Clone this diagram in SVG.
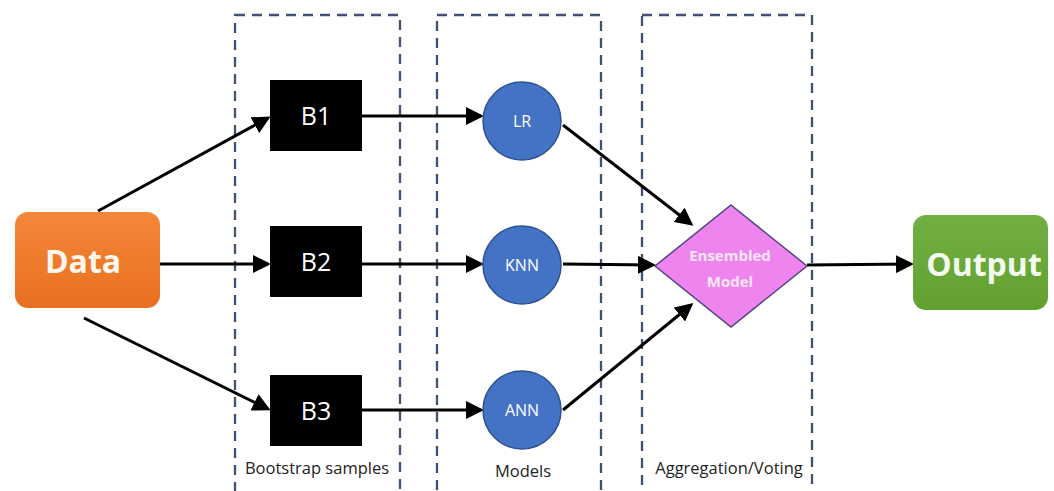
<svg xmlns="http://www.w3.org/2000/svg" width="1054" height="491" viewBox="0 0 1054 491">
<defs>
<marker id="ah" markerWidth="6" markerHeight="6" refX="5" refY="3" orient="auto" markerUnits="strokeWidth">
<path d="M0,0 L6,3 L0,6 z" fill="#000"/>
</marker>
<linearGradient id="gOr" x1="0" y1="0" x2="0" y2="1">
<stop offset="0" stop-color="#F5873A"/><stop offset="1" stop-color="#E8701F"/>
</linearGradient>
<linearGradient id="gGr" x1="0" y1="0" x2="0" y2="1">
<stop offset="0" stop-color="#73B043"/><stop offset="1" stop-color="#62A032"/>
</linearGradient>
</defs>
<style>
.dash{fill:none;stroke:#3F5272;stroke-width:2.3;stroke-dasharray:10 7}
.con line{stroke:#000;stroke-width:3;marker-end:url(#ah)}
.bx{fill:#000}
.bt{font-family:"Open Sans","Liberation Sans",sans-serif;font-size:25px;fill:#fff;text-anchor:middle}
.ci{fill:#4472C4;stroke:#2F528F;stroke-width:1.5}
.ct{font-family:"Open Sans","Liberation Sans",sans-serif;font-size:16px;fill:#fff;text-anchor:middle}
.lab{font-family:"Open Sans","Liberation Sans",sans-serif;font-size:16.5px;fill:#222;text-anchor:middle}
</style>
<rect width="1054" height="491" fill="#fff"/>
<g id="groups">
<rect class="dash" x="235" y="15" width="165" height="490"/>
<rect class="dash" x="437" y="15" width="164" height="490"/>
<rect class="dash" x="642" y="15" width="170" height="490"/>
<text class="lab" x="317" y="474">Bootstrap samples</text>
<text class="lab" x="523" y="477">Models</text>
<text class="lab" x="729" y="474">Aggregation/Voting</text>
</g>
<g class="con" id="connectors">
<line x1="98" y1="211" x2="268" y2="118"/>
<line x1="160" y1="264" x2="268" y2="264"/>
<line x1="84" y1="318" x2="268" y2="409"/>
<line x1="362" y1="116" x2="481" y2="116"/>
<line x1="362" y1="264" x2="481" y2="264"/>
<line x1="362" y1="410" x2="481" y2="410"/>
<line x1="563" y1="125" x2="691" y2="224"/>
<line x1="563" y1="264" x2="653" y2="265"/>
<line x1="563" y1="410" x2="691" y2="305"/>
<line x1="807" y1="265" x2="911" y2="264"/>
</g>
<g id="data">
<rect x="15" y="212" width="145" height="96" rx="13" fill="url(#gOr)"/>
<text x="83" y="273" font-family="'Open Sans','Liberation Sans',sans-serif" font-size="32" font-weight="bold" fill="#FFF6EC" text-anchor="middle">Data</text>
</g>
<g id="b1"><rect class="bx" x="270" y="80" width="92" height="71"/><text class="bt" x="316" y="125">B1</text></g>
<g id="b2"><rect class="bx" x="270" y="226" width="92" height="71"/><text class="bt" x="316" y="271">B2</text></g>
<g id="b3"><rect class="bx" x="270" y="375" width="92" height="71"/><text class="bt" x="316" y="420">B3</text></g>
<g id="lr"><circle class="ci" cx="522" cy="121" r="39"/><text class="ct" x="522" y="127">LR</text></g>
<g id="knn"><circle class="ci" cx="522" cy="265" r="39"/><text class="ct" x="522" y="271">KNN</text></g>
<g id="ann"><circle class="ci" cx="522" cy="410" r="39"/><text class="ct" x="522" y="416">ANN</text></g>
<g id="ensemble">
<polygon points="731,205 807,266 731,327 655,266" fill="#EE85EE" stroke="#4E4480" stroke-width="1.5"/>
<text x="730" y="261" font-family="'Open Sans','Liberation Sans',sans-serif" font-size="15" font-weight="bold" fill="#FDE6FA" text-anchor="middle">Ensembled</text>
<text x="730" y="287" font-family="'Open Sans','Liberation Sans',sans-serif" font-size="15" font-weight="bold" fill="#FDE6FA" text-anchor="middle">Model</text>
</g>
<g id="output">
<rect x="913" y="215" width="135" height="95" rx="13" fill="url(#gGr)"/>
<text x="984" y="276" font-family="'Open Sans','Liberation Sans',sans-serif" font-size="32" font-weight="bold" fill="#F4FAEE" text-anchor="middle">Output</text>
</g>
</svg>
